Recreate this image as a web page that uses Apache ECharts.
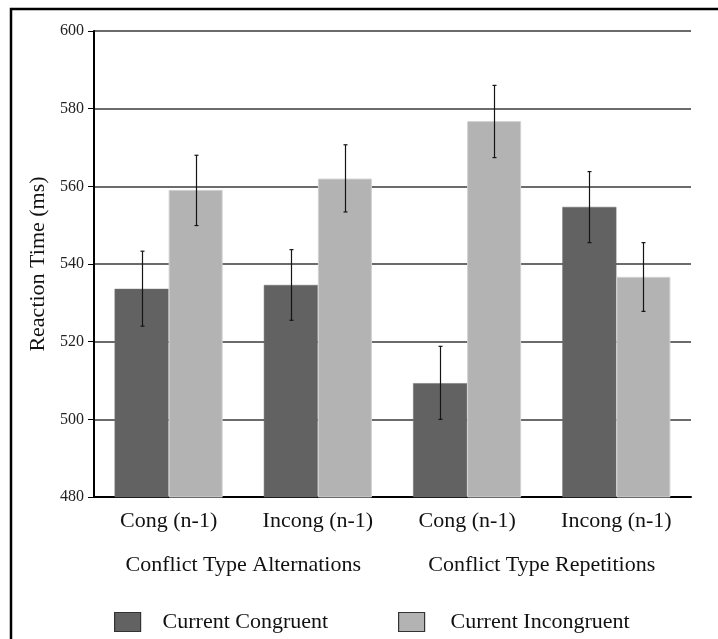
<!DOCTYPE html>
<html>
<head>
<meta charset="utf-8">
<script src="https://cdn.jsdelivr.net/npm/echarts@6/dist/echarts.min.js"></script>
<style>
html,body{margin:0;padding:0;background:#fff;}
#chart{width:718px;height:639px;}
</style>
</head>
<body>
<div id="chart"></div>
<script>
// ---- data ----
var categories = ['Cong (n-1)', 'Incong (n-1)', 'Cong (n-1)', 'Incong (n-1)'];
var groupLabels = ['Conflict Type Alternations', 'Conflict Type Repetitions'];
var seriesNames = ['Current Congruent', 'Current Incongruent'];
var congruent = [533.6, 534.6, 509.3, 554.7];
var incongruent = [559.1, 562.0, 576.8, 536.7];
var congruentLow = [524.0, 525.5, 500.0, 545.5];
var congruentHigh = [543.3, 543.7, 518.8, 563.8];
var incongruentLow = [549.9, 553.4, 567.4, 527.8];
var incongruentHigh = [568.0, 570.7, 586.0, 545.5];
var yTicks = [480, 500, 520, 540, 560, 580, 600];

var FONT = '"Liberation Serif", "DejaVu Serif", serif';
var GAP = 0.276;
var DARK = '#626262', LIGHT = '#b3b3b3';

function errData(lo, hi) {
  return lo.map(function (v, i) { return [i, v, hi[i]]; });
}
function makeErr(sign) {
  return function (params, api) {
    var x = api.value(0), lo = api.value(1), hi = api.value(2);
    var band = api.size([1, 0])[0];
    var bw = band * (1 - GAP) / 2;
    var pLo = api.coord([x, lo]);
    var pHi = api.coord([x, hi]);
    var cx = Math.round(pLo[0] + sign * bw / 2) + 0.5;
    var c = 2;
    var st = { stroke: '#141414', lineWidth: 1.2 };
    return {
      type: 'group',
      children: [
        { type: 'line', shape: { x1: cx, y1: pLo[1], x2: cx, y2: pHi[1] }, style: st },
        { type: 'line', shape: { x1: cx - c, y1: pLo[1], x2: cx + c, y2: pLo[1] }, style: st },
        { type: 'line', shape: { x1: cx - c, y1: pHi[1], x2: cx + c, y2: pHi[1] }, style: st }
      ]
    };
  };
}

var chart = echarts.init(document.getElementById('chart'), null, { renderer: 'canvas' });
chart.setOption({
  backgroundColor: '#fff',
  animation: false,
  textStyle: { fontFamily: FONT },
  graphic: [{
    type: 'rect', shape: { x: 11, y: 9, width: 900, height: 900 },
    style: { fill: 'none', stroke: '#000', lineWidth: 2.5 }, silent: true, z: 100
  }],
  grid: { left: 94, right: 27, top: 31, bottom: 142, containLabel: false },
  legend: [{
    data: [seriesNames[0]], left: 114, top: 611, padding: 0,
    itemWidth: 26, itemHeight: 19, icon: 'rect',
    itemStyle: { borderColor: '#333', borderWidth: 1.2 },
    textStyle: { fontFamily: FONT, fontSize: 22, color: '#111', padding: [0, 0, 0, 17] }
  }, {
    data: [seriesNames[1]], left: 398, top: 611, padding: 0,
    itemWidth: 26, itemHeight: 19, icon: 'rect',
    itemStyle: { borderColor: '#333', borderWidth: 1.2 },
    textStyle: { fontFamily: FONT, fontSize: 22, color: '#111', padding: [0, 0, 0, 21] }
  }],
  xAxis: [{
    type: 'category', data: categories, position: 'bottom',
    axisLine: { lineStyle: { color: '#000', width: 2 } },
    axisTick: { show: false },
    axisLabel: { interval: 0, hideOverlap: false, fontFamily: FONT, fontSize: 22, color: '#111', margin: 13 }
  }, {
    type: 'category', data: groupLabels, position: 'bottom',
    axisLine: { show: false }, axisTick: { show: false }, splitLine: { show: false },
    axisLabel: { interval: 0, hideOverlap: false, fontFamily: FONT, fontSize: 22, color: '#111', margin: 57 }
  }],
  yAxis: {
    type: 'value', min: yTicks[0], max: yTicks[yTicks.length - 1], interval: 20,
    name: 'Reaction Time (ms)', nameLocation: 'middle', nameGap: 45,
    nameTextStyle: { fontFamily: FONT, fontSize: 22, color: '#111' },
    axisLine: { show: true, lineStyle: { color: '#000', width: 2 } },
    axisTick: { show: true, length: 6, lineStyle: { color: '#000', width: 1 } },
    axisLabel: { fontFamily: FONT, fontSize: 16, color: '#222', margin: 10 },
    splitLine: { show: true, lineStyle: { color: '#3a3a3a', width: 1.5 } }
  },
  series: [{
    name: seriesNames[0], type: 'bar', data: congruent,
    barGap: '0%', barCategoryGap: (GAP * 100) + '%',
    itemStyle: { color: DARK, borderColor: '#6e6e6e', borderWidth: 0.5 }
  }, {
    name: seriesNames[1], type: 'bar', data: incongruent,
    barGap: '0%', barCategoryGap: (GAP * 100) + '%',
    itemStyle: { color: LIGHT, borderColor: '#d2d2d2', borderWidth: 1 }
  }, {
    type: 'custom', data: errData(congruentLow, congruentHigh),
    encode: { x: 0, y: [1, 2] }, renderItem: makeErr(-1), z: 10, silent: true
  }, {
    type: 'custom', data: errData(incongruentLow, incongruentHigh),
    encode: { x: 0, y: [1, 2] }, renderItem: makeErr(1), z: 10, silent: true
  }]
});
</script>
</body>
</html>
